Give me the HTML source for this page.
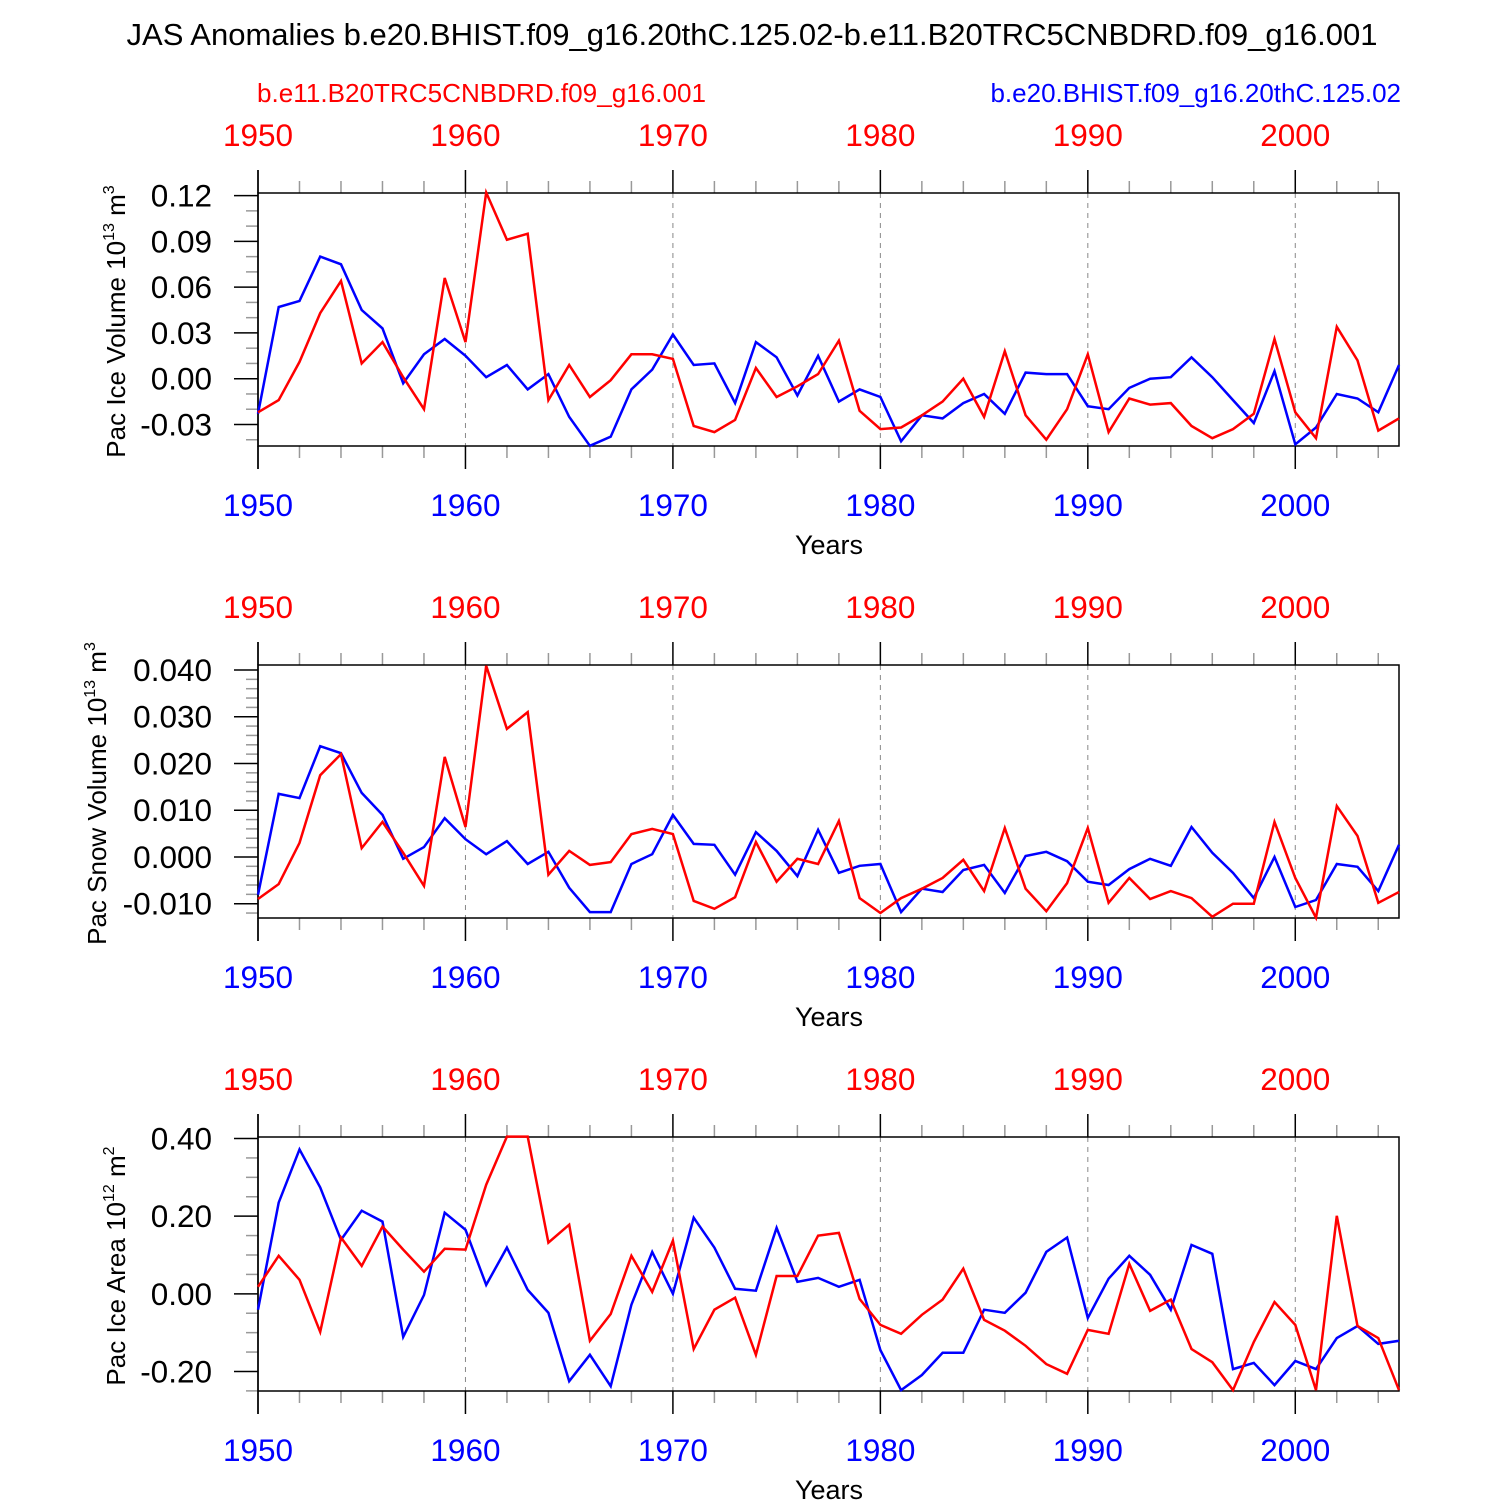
<!DOCTYPE html>
<html><head><meta charset="utf-8"><style>
html,body{margin:0;padding:0;background:#fff;}
svg{display:block;font-family:"Liberation Sans",Arial,sans-serif;}
</style></head><body>
<svg id="chart" width="1500" height="1500" viewBox="0 0 1500 1500">
<text x="752" y="45" text-anchor="middle" font-size="31" textLength="1251" lengthAdjust="spacingAndGlyphs">JAS Anomalies b.e20.BHIST.f09_g16.20thC.125.02-b.e11.B20TRC5CNBDRD.f09_g16.001</text>
<text x="257" y="102" font-size="26" fill="#ff0000" textLength="449" lengthAdjust="spacingAndGlyphs">b.e11.B20TRC5CNBDRD.f09_g16.001</text>
<text x="1401" y="102" font-size="26" fill="#0000ff" text-anchor="end">b.e20.BHIST.f09_g16.20thC.125.02</text>
</svg>
<script>
const years = [];
for (let y = 1950; y <= 2005; y++) years.push(y);
const decadeLabels = ["1950","1960","1970","1980","1990","2000"];

const iceVolBlue = [-0.023,0.047,0.051,0.080,0.075,0.045,0.033,-0.003,0.016,0.026,0.015,0.001,0.009,-0.007,0.003,-0.025,-0.044,-0.038,-0.007,0.006,0.029,0.009,0.010,-0.016,0.024,0.014,-0.011,0.015,-0.015,-0.007,-0.012,-0.041,-0.024,-0.026,-0.016,-0.010,-0.023,0.004,0.003,0.003,-0.018,-0.020,-0.006,0.000,0.001,0.014,0.001,-0.014,-0.029,0.005,-0.043,-0.032,-0.010,-0.013,-0.022,0.009];
const iceVolRed = [-0.022,-0.014,0.011,0.043,0.064,0.010,0.024,0.001,-0.020,0.066,0.024,0.122,0.091,0.095,-0.014,0.009,-0.012,-0.001,0.016,0.016,0.013,-0.031,-0.035,-0.027,0.007,-0.012,-0.005,0.003,0.025,-0.021,-0.033,-0.032,-0.024,-0.015,0.000,-0.025,0.018,-0.024,-0.040,-0.020,0.016,-0.035,-0.013,-0.017,-0.016,-0.031,-0.039,-0.033,-0.023,0.026,-0.022,-0.039,0.034,0.012,-0.034,-0.026];
const snowVolBlue = [-0.0081,0.0135,0.0126,0.0237,0.0222,0.0137,0.009,-0.0004,0.0021,0.0083,0.0038,0.0006,0.0034,-0.0015,0.0011,-0.0066,-0.0118,-0.0118,-0.0015,0.0006,0.009,0.0028,0.0026,-0.0038,0.0053,0.0013,-0.0041,0.0058,-0.0034,-0.0019,-0.0015,-0.0118,-0.0068,-0.0075,-0.0028,-0.0017,-0.0077,0.0002,0.0011,-0.0009,-0.0053,-0.006,-0.0026,-0.0004,-0.0019,0.0064,0.0009,-0.0034,-0.0088,0.0,-0.0107,-0.0092,-0.0015,-0.0021,-0.0073,0.0026];
const snowVolRed = [-0.009,-0.0058,0.003,0.0175,0.022,0.0019,0.0075,0.0009,-0.0062,0.0214,0.0064,0.0409,0.0274,0.031,-0.0038,0.0013,-0.0017,-0.0011,0.0049,0.006,0.0049,-0.0094,-0.0111,-0.0086,0.0032,-0.0053,-0.0004,-0.0015,0.0077,-0.0088,-0.012,-0.0088,-0.0068,-0.0045,-0.0006,-0.0073,0.0062,-0.0068,-0.0116,-0.0056,0.0062,-0.0098,-0.0045,-0.009,-0.0073,-0.0088,-0.0128,-0.01,-0.01,0.0075,-0.0045,-0.013,0.0109,0.0045,-0.0098,-0.0075];
const iceAreaBlue = [-0.041,0.235,0.372,0.274,0.139,0.214,0.186,-0.111,-0.003,0.209,0.165,0.023,0.119,0.010,-0.049,-0.225,-0.157,-0.238,-0.028,0.108,0.0,0.196,0.119,0.013,0.008,0.170,0.031,0.041,0.018,0.036,-0.145,-0.248,-0.209,-0.152,-0.152,-0.041,-0.049,0.003,0.108,0.145,-0.062,0.039,0.098,0.049,-0.041,0.126,0.103,-0.194,-0.178,-0.235,-0.173,-0.194,-0.114,-0.083,-0.129,-0.121];
const iceAreaRed = [0.018,0.098,0.036,-0.098,0.145,0.072,0.173,0.114,0.057,0.116,0.114,0.281,0.405,0.405,0.132,0.178,-0.121,-0.052,0.098,0.005,0.137,-0.142,-0.041,-0.010,-0.157,0.046,0.046,0.150,0.157,-0.013,-0.080,-0.103,-0.054,-0.015,0.065,-0.067,-0.095,-0.134,-0.181,-0.206,-0.093,-0.103,0.077,-0.044,-0.015,-0.142,-0.176,-0.248,-0.124,-0.021,-0.080,-0.248,0.201,-0.083,-0.114,-0.248];

const iceVolTicks = ["0.12","0.09","0.06","0.03","0.00","-0.03"];
const snowVolTicks = ["0.040","0.030","0.020","0.010","0.000","-0.010"];
const iceAreaTicks = ["0.40","0.20","0.00","-0.20"];

const panels = [
  {name:"ice-volume", top:193, bottom:446, ymin:-0.0441, ymax:0.1217, ticks:iceVolTicks, minor:0.01, blue:iceVolBlue, red:iceVolRed, title:"Pac Ice Volume 10", sup:"13", unit:"m", usup:"3", tx:125},
  {name:"snow-volume", top:665, bottom:918, ymin:-0.01306, ymax:0.04107, ticks:snowVolTicks, minor:0.002, blue:snowVolBlue, red:snowVolRed, title:"Pac Snow Volume 10", sup:"13", unit:"m", usup:"3", tx:106},
  {name:"ice-area", top:1137, bottom:1391, ymin:-0.2503, ymax:0.4039, ticks:iceAreaTicks, minor:0.05, blue:iceAreaBlue, red:iceAreaRed, title:"Pac Ice Area 10", sup:"12", unit:"m", usup:"2", tx:125}
];

const NS = "http://www.w3.org/2000/svg";
const svg = document.getElementById("chart");
const X0 = 258, X1 = 1399;
function xScale(yr){ return X0 + (yr - 1950) * (X1 - X0) / 55; }
function mk(tag, attrs, parent){
  const e = document.createElementNS(NS, tag);
  for (const k in attrs) e.setAttribute(k, attrs[k]);
  (parent||svg).appendChild(e);
  return e;
}

panels.forEach(p => {
  const g = mk("g", {});
  
  
  const yScale = v => p.bottom - (v - p.ymin) * (p.bottom - p.top) / (p.ymax - p.ymin);
  decadeLabels.forEach((d,i) => {
    if (i === 0) return;
    const x = xScale(+d);
    const l = mk("line", {x1:x, x2:x, y1:p.top, y2:p.bottom, stroke:"#888", "stroke-width":1, "stroke-dasharray":"5,5"}, g);
    
    
  });
  for (let yr = 1950; yr <= 2004; yr += 2) {
    const x = xScale(yr);
    const major = (yr % 10 === 0);
    const len = major ? 23 : 12;
    const c = major ? "#000" : "#999";
    mk("line", {x1:x, x2:x, y1:p.top - len, y2:p.top, stroke:c, "stroke-width":1.5}, g);
    mk("line", {x1:x, x2:x, y1:p.bottom, y2:p.bottom + len, stroke:c, "stroke-width":1.5}, g);
  }
  const nMin = Math.ceil(p.ymin / p.minor - 1e-6), nMax = Math.floor(p.ymax / p.minor + 1e-6);
  const majorVals = p.ticks.map(Number);
  for (let k = nMin; k <= nMax; k++) {
    const v = k * p.minor;
    const isMajor = majorVals.some(m => Math.abs(m - v) < p.minor * 0.1);
    const y = yScale(v);
    mk("line", {x1: X0 - (isMajor ? 24 : 12), x2: X0, y1:y, y2:y, stroke: isMajor ? "#000" : "#999", "stroke-width":1.5}, g);
  }
  p.ticks.forEach(t => {
    const tx = mk("text", {x:212, y:yScale(+t) + 11, "text-anchor":"end", "font-size":31.5}, g);
    tx.textContent = t;
    
    
  });
  mk("line", {x1:X0, x2:X0, y1:p.top - 23, y2:p.bottom + 23, stroke:"#000", "stroke-width":1.5}, g);
  mk("rect", {x:X0, y:p.top, width:X1 - X0, height:p.bottom - p.top, fill:"none", stroke:"#000", "stroke-width":1.5}, g);
  decadeLabels.forEach(d => {
    const x = xScale(+d);
    const t1 = mk("text", {x:x, y:p.top - 47, "text-anchor":"middle", "font-size":31.5, fill:"#ff0000"}, g);
    t1.textContent = d;
    
    
    const t2 = mk("text", {x:x, y:p.bottom + 70, "text-anchor":"middle", "font-size":31.5, fill:"#0000ff"}, g);
    t2.textContent = d;
    
    
  });
  const xt = mk("text", {x:829, y:p.bottom + 108, "text-anchor":"middle", "font-size":27}, g);
  xt.textContent = "Years";
  
  
  const cy = (p.top + p.bottom) / 2 + 2;
  const yt = mk("text", {x:0, y:0, "text-anchor":"middle", "font-size":26, transform:"translate(" + p.tx + "," + cy + ") rotate(-90)"}, g);
  
  
  const s1 = document.createElementNS(NS, "tspan"); s1.textContent = p.title; yt.appendChild(s1);
  const s2 = document.createElementNS(NS, "tspan"); s2.setAttribute("font-size", "16"); s2.setAttribute("dy", "-11"); s2.textContent = p.sup; yt.appendChild(s2);
  const s3 = document.createElementNS(NS, "tspan"); s3.setAttribute("dy", "11"); s3.textContent = " " + p.unit; yt.appendChild(s3);
  const s4 = document.createElementNS(NS, "tspan"); s4.setAttribute("font-size", "16"); s4.setAttribute("dy", "-11"); s4.textContent = p.usup; yt.appendChild(s4);
  [["blue", "#0000ff", p.blue], ["red", "#ff0000", p.red]].forEach(([nm, col, arr]) => {
    const pts = arr.map((v, i) => xScale(years[i]).toFixed(1) + "," + yScale(v).toFixed(1)).join(" ");
    const pl = mk("polyline", {points:pts, fill:"none", stroke:col, "stroke-width":2.5, "stroke-linejoin":"miter"}, g);
    
    
  });
});
</script>
</body></html>
